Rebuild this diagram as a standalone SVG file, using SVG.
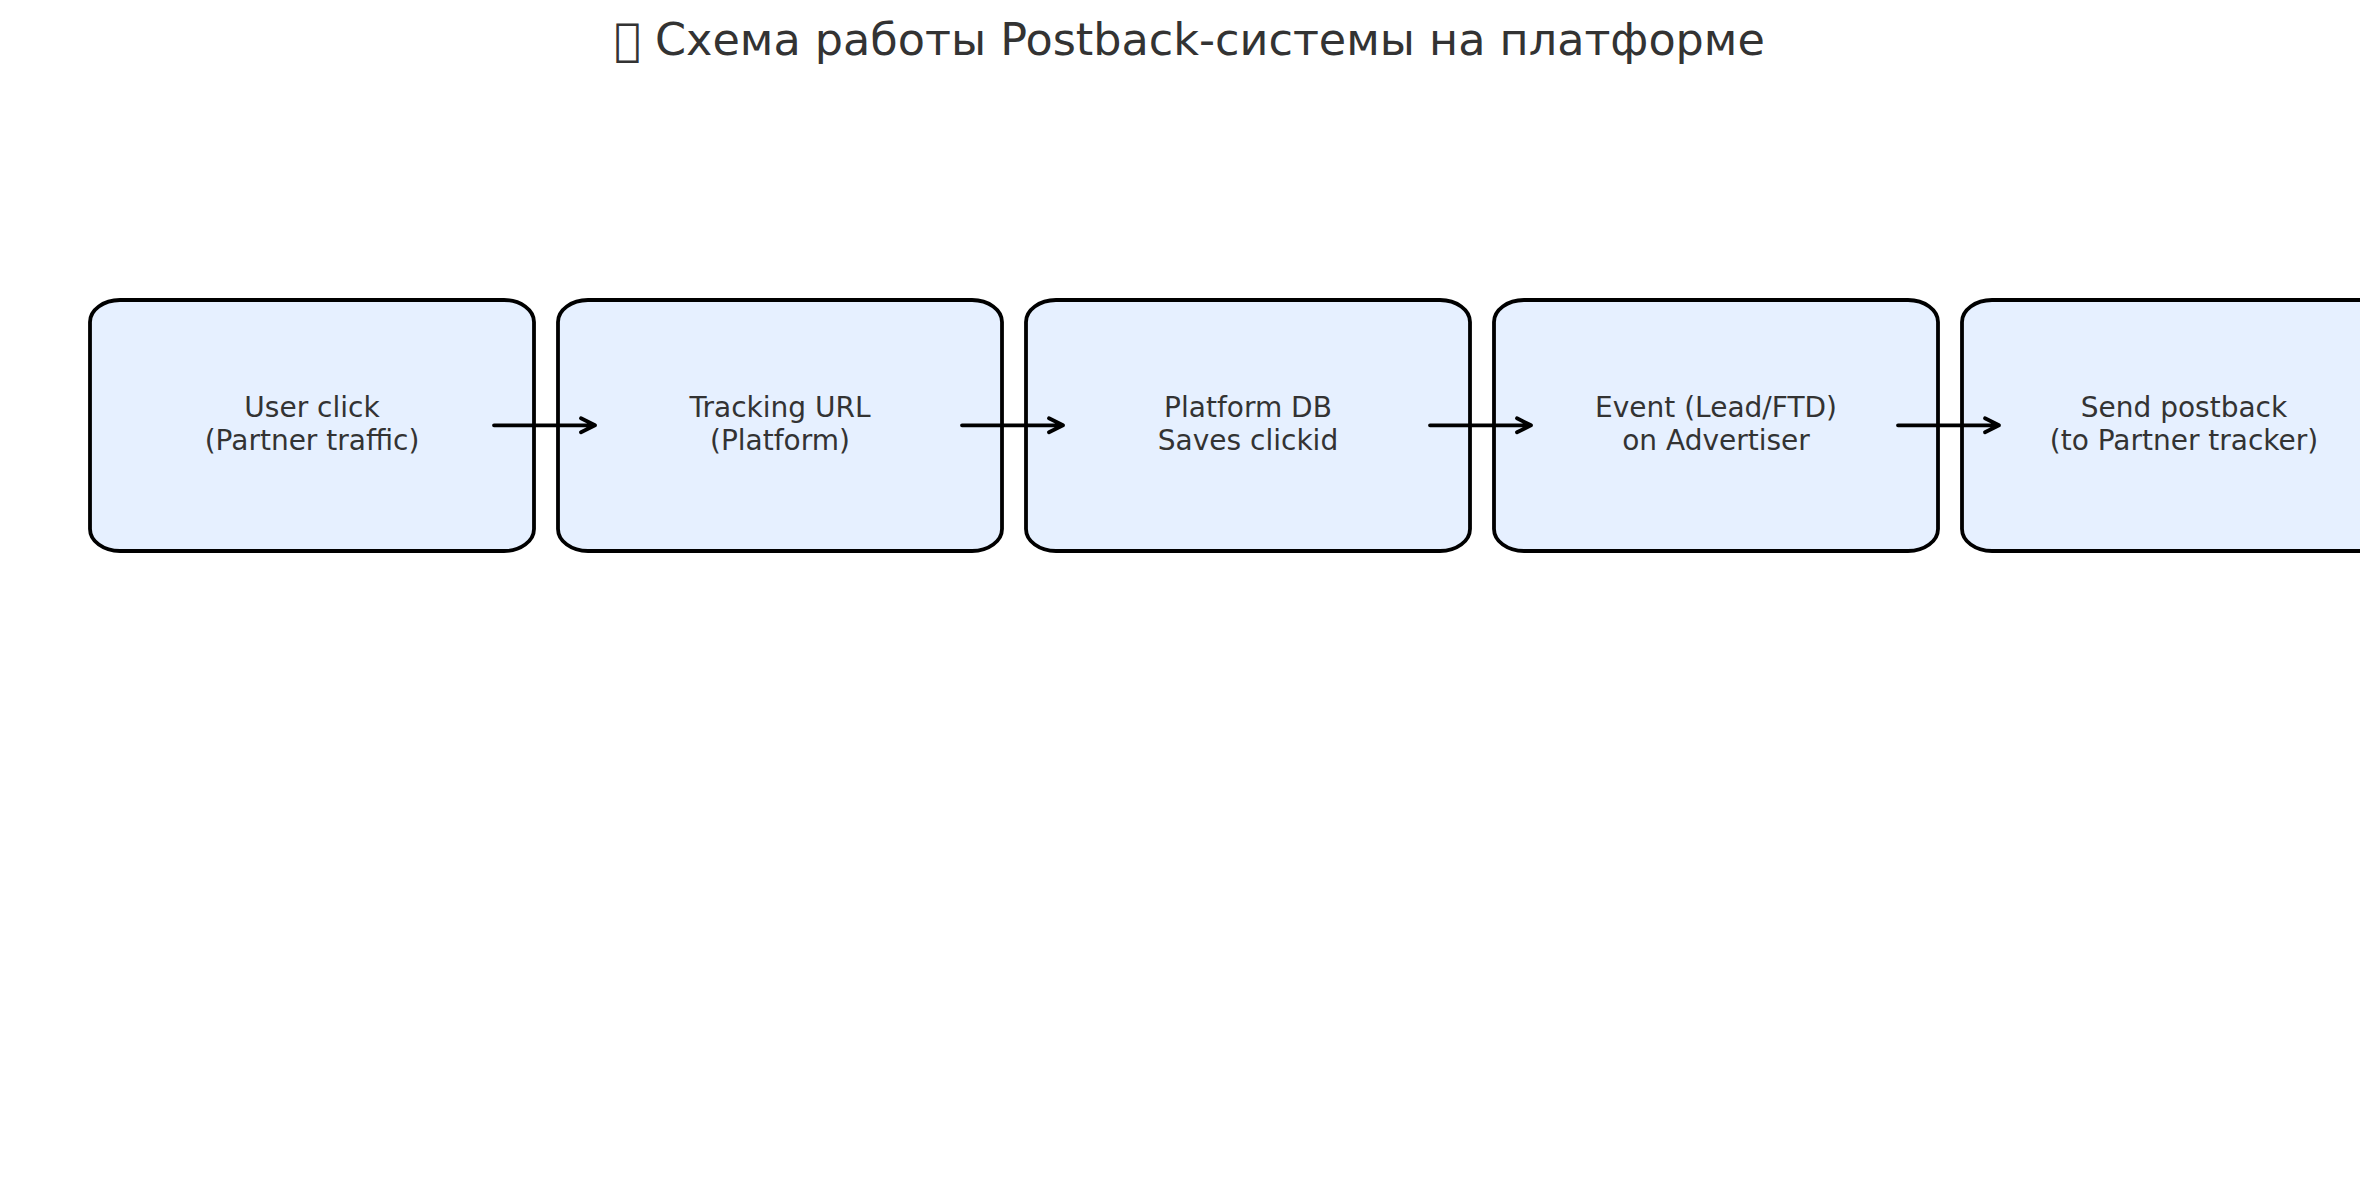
<svg xmlns="http://www.w3.org/2000/svg" width="2379" height="1180" viewBox="0 0 2379 1180">
<style>
.box{fill:#e6f0ff;stroke:#000;stroke-width:3.8}
.lbl{font-family:"DejaVu Sans",sans-serif;font-size:28px;fill:#333;text-anchor:middle}
.title{font-family:"DejaVu Sans",sans-serif;font-size:44.5px;fill:#333;text-anchor:middle}
.conn{stroke:#000;stroke-width:3.8;fill:none;stroke-linecap:round;stroke-linejoin:round}
</style>
<defs>
<clipPath id="clip"><rect x="0" y="0" width="2360" height="1180"/></clipPath>
</defs>
<rect width="2379" height="1180" fill="#fff"/>
<text class="title" x="1189.5" y="55">&#xE000; Схема работы Postback-системы на платформе</text>
<g clip-path="url(#clip)">
<g id="node1"><rect class="box" x="90" y="300" width="444" height="251" rx="30" ry="22"/><text class="lbl" x="312" y="416.5">User click</text><text class="lbl" x="312" y="450">(Partner traffic)</text></g>
<g id="node2"><rect class="box" x="558" y="300" width="444" height="251" rx="30" ry="22"/><text class="lbl" x="780" y="416.5">Tracking URL</text><text class="lbl" x="780" y="450">(Platform)</text></g>
<g id="node3"><rect class="box" x="1026" y="300" width="444" height="251" rx="30" ry="22"/><text class="lbl" x="1248" y="416.5">Platform DB</text><text class="lbl" x="1248" y="450">Saves clickid</text></g>
<g id="node4"><rect class="box" x="1494" y="300" width="444" height="251" rx="30" ry="22"/><text class="lbl" x="1716" y="416.5">Event (Lead/FTD)</text><text class="lbl" x="1716" y="450">on Advertiser</text></g>
<g id="node5"><rect class="box" x="1962" y="300" width="444" height="251" rx="30" ry="22"/><text class="lbl" x="2184" y="416.5">Send postback</text><text class="lbl" x="2184" y="450">(to Partner tracker)</text></g>
</g>
<g id="connectors" class="conn">
<path d="M494 425.3H595M581 418.3L595 425.3L581 432.3"/>
<path d="M962 425.3H1063M1049 418.3L1063 425.3L1049 432.3"/>
<path d="M1430 425.3H1531M1517 418.3L1531 425.3L1517 432.3"/>
<path d="M1898 425.3H1999M1985 418.3L1999 425.3L1985 432.3"/>
</g>
</svg>
